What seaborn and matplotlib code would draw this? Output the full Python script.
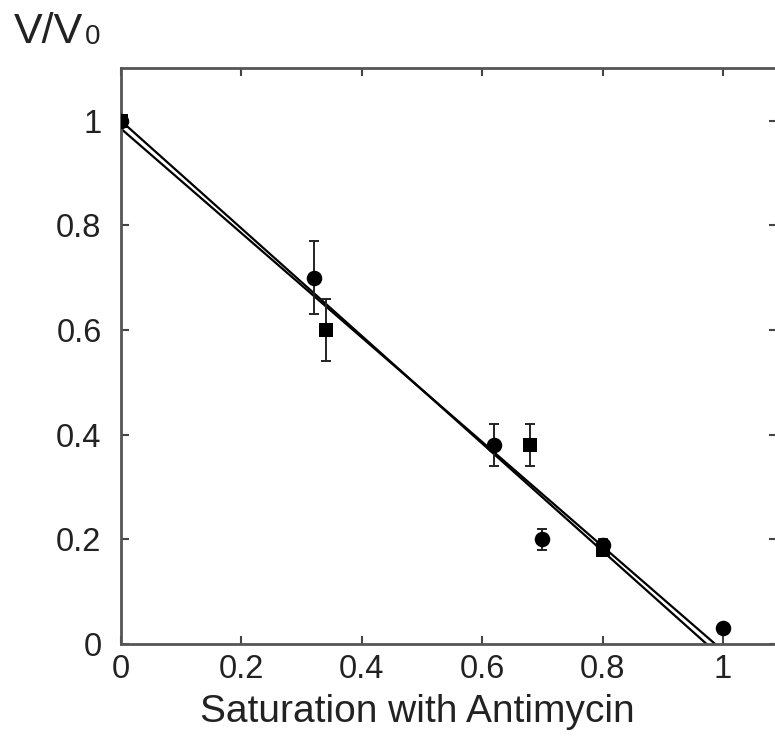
import matplotlib
matplotlib.use("Agg")
import matplotlib.pyplot as plt
import seaborn as sns
import numpy as np
import pandas as pd

# ---- data ----
sq_x = [0.0, 0.34, 0.68, 0.80]
sq_y = [1.00, 0.60, 0.38, 0.18]
sq_err = [0.0, 0.06, 0.04, 0.01]

ci_x = [0.0, 0.32, 0.62, 0.70, 0.80, 1.00]
ci_y = [1.00, 0.70, 0.38, 0.20, 0.19, 0.03]
ci_err = [0.0, 0.07, 0.04, 0.02, 0.01, 0.0]

fit_a = {"intercept": 1.000, "slope": -1.028}
fit_b = {"intercept": 0.985, "slope": -0.998}

xticks = [0, 0.2, 0.4, 0.6, 0.8, 1]
xticklabels = ["0", "0.2", "0.4", "0.6", "0.8", "1"]
yticks = [0, 0.2, 0.4, 0.6, 0.8, 1]
yticklabels = ["0", "0.2", "0.4", "0.6", "0.8", "1"]

sns.set_theme(style="ticks")
plt.rcParams["font.family"] = ["Liberation Sans", "DejaVu Sans"]

fig = plt.figure(figsize=(7.75, 7.47), dpi=100)
W, H = 775, 747
left_px, right_px, top_px, bottom_px = 121, 777, 68, 644
ax = fig.add_axes([left_px / W, 1 - bottom_px / H,
                   (right_px - left_px) / W, (bottom_px - top_px) / H])

# fit lines
fit_x = np.array([0.0, 1.05])
df_a = pd.DataFrame({"x": fit_x, "y": fit_a["intercept"] + fit_a["slope"] * fit_x})
df_b = pd.DataFrame({"x": fit_x, "y": fit_b["intercept"] + fit_b["slope"] * fit_x})
sns.lineplot(data=df_a, x="x", y="y", ax=ax, color="black", linewidth=1.6, zorder=2)
sns.lineplot(data=df_b, x="x", y="y", ax=ax, color="black", linewidth=1.6, zorder=2)

# error bars
ax.errorbar(sq_x, sq_y, yerr=sq_err, fmt="none", ecolor="#222222",
            elinewidth=1.4, capsize=3.8, capthick=1.4, zorder=3)
ax.errorbar(ci_x, ci_y, yerr=ci_err, fmt="none", ecolor="#222222",
            elinewidth=1.4, capsize=3.8, capthick=1.4, zorder=3)

# markers
sns.scatterplot(x=ci_x, y=ci_y, ax=ax, marker="o", s=125, color="black",
                edgecolor="black", linewidth=0, zorder=4)
sns.scatterplot(x=sq_x, y=sq_y, ax=ax, marker="s", s=105, color="black",
                edgecolor="black", linewidth=0, zorder=5)

ax.set_xlim(0, (right_px - left_px) / 602.0)
ax.set_ylim(0, 1.101)
ax.set_xticks(xticks)
ax.set_xticklabels(xticklabels)
ax.set_yticks(yticks)
ax.set_yticklabels(yticklabels)

for s in ax.spines.values():
    s.set_color("#555555")
    s.set_linewidth(2.0)
    s.set_visible(True)

ax.tick_params(axis="both", direction="in", length=6, width=1.5, color="#444444",
               labelsize=23.5, labelcolor="#222222", top=True, right=True)
ax.tick_params(axis="y", pad=14)
ax.tick_params(axis="x", pad=7)

ax.set_xlabel("")
ax.set_ylabel("")
fig.text(417 / W, 1 - 712 / H, "Saturation with Antimycin", fontsize=28,
         color="#222222", ha="center", va="center")

t = fig.text(14 / W, 1 - 43 / H, "V/V", fontsize=31, color="#222222",
             ha="left", va="baseline")
ax.annotate("0", xy=(1, 0), xycoords=t, xytext=(1, 1.5), textcoords="offset points",
            fontsize=20, color="#222222", ha="left", va="bottom",
            annotation_clip=False)

fig.savefig("out.png", dpi=100, facecolor="white")
